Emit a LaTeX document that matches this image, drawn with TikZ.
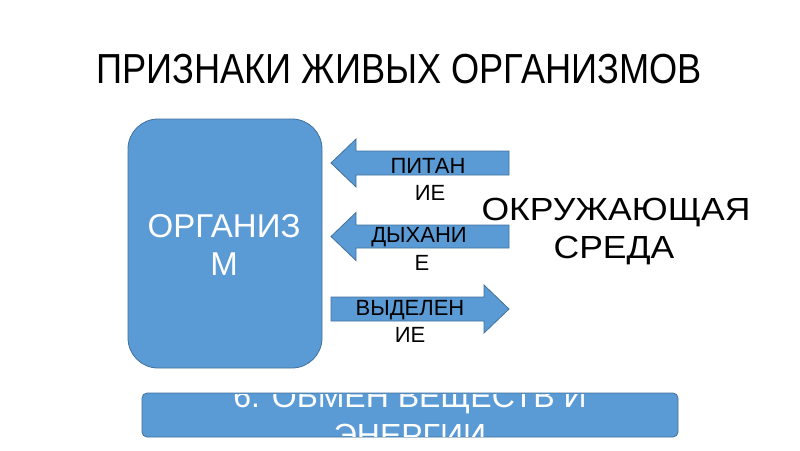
\documentclass[tikz,border=0pt]{standalone}
\usepackage{fontspec}
\setmainfont{Liberation Sans}
\definecolor{boxblue}{HTML}{5B9BD5}
\definecolor{edgeblue}{HTML}{41719C}
\begin{document}
\begin{tikzpicture}[x=1pt,y=-1pt,
  shapefill/.style={fill=boxblue,draw=edgeblue,line width=0.8pt},
  lbl/.style={anchor=base,inner sep=0pt,text=black},
  wlbl/.style={anchor=base,inner sep=0pt,text=white}]
\useasboundingbox[fill=white] (0,0) rectangle (800,450);
% title
\node[lbl,font=\fontsize{42}{50}\selectfont] (title) at (399,83) {\scalebox{0.862}[1]{ПРИЗНАКИ ЖИВЫХ ОРГАНИЗМОВ}};
% organism box
\draw[shapefill,rounded corners=30pt] (128,119) rectangle (322,368);
\node[wlbl,font=\fontsize{33}{38}\selectfont] (org1) at (224,237) {ОРГАНИЗ};
\node[wlbl,font=\fontsize{33}{38}\selectfont] (org2) at (224,275) {М};
% arrows
\draw[shapefill] (331,163) -- (356,139) -- (356,151) -- (509,151) -- (509,175) -- (356,175) -- (356,187) -- cycle;
\draw[shapefill] (331,236.5) -- (356,212.5) -- (356,225) -- (509,225) -- (509,248) -- (356,248) -- (356,260.5) -- cycle;
\draw[shapefill] (331,297) -- (484,297) -- (484,285) -- (509,309) -- (484,333) -- (484,321) -- (331,321) -- cycle;
\node[lbl,font=\fontsize{22}{27}\selectfont] (p1) at (428,173) {ПИТАН};
\node[lbl,font=\fontsize{22}{27}\selectfont] (p2) at (430,200) {ИЕ};
\node[lbl,font=\fontsize{22}{27}\selectfont] (d1) at (419,242) {ДЫХАНИ};
\node[lbl,font=\fontsize{22}{27}\selectfont] (d2) at (422,270) {Е};
\node[lbl,font=\fontsize{22}{27}\selectfont] (v1) at (410,315) {ВЫДЕЛЕН};
\node[lbl,font=\fontsize{22}{27}\selectfont] (v2) at (410,342) {ИЕ};
% environment
\node[lbl,font=\fontsize{32}{38}\selectfont] (env1) at (616,220) {\scalebox{1.11}[1]{ОКРУЖАЮЩАЯ}};
\node[lbl,font=\fontsize{32}{38}\selectfont] (env2) at (614,258) {\scalebox{1.11}[1]{СРЕДА}};
% bottom box
\draw[shapefill,rounded corners=5pt] (142,393) rectangle (678,437);
\begin{scope}
\clip[rounded corners=5pt] (142.5,393.5) rectangle (677.5,436.5);
\node[wlbl,font=\fontsize{32}{38}\selectfont] (b1) at (410,407) {6. ОБМЕН ВЕЩЕСТВ И};
\node[wlbl,font=\fontsize{32}{38}\selectfont] (b2) at (410,446) {ЭНЕРГИИ};
\end{scope}
\end{tikzpicture}
\end{document}
